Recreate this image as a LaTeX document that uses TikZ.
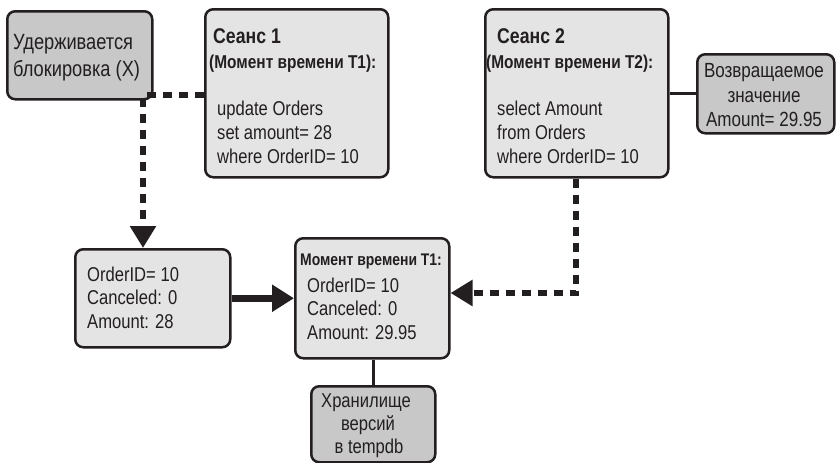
\documentclass[tikz,border=0pt]{standalone}
\usepackage{fontspec}
\setmainfont{Liberation Sans}[FakeStretch=0.83]
\usetikzlibrary{arrows.meta}
\definecolor{lightfill}{HTML}{E4E4E5}
\definecolor{darkfill}{HTML}{C8C8C9}
\definecolor{ink}{HTML}{231F20}
\begin{document}
\begin{tikzpicture}[x=1pt,y=-1pt,
  box/.style={draw=ink, line width=2.5pt, rounded corners=8pt, inner sep=0pt, anchor=north west},
  lightbox/.style={box, fill=lightfill},
  darkbox/.style={box, fill=darkfill},
  txt/.style={anchor=base west, inner sep=0pt, text=ink},
  ctxt/.style={anchor=base, inner sep=0pt, text=ink},
  big/.style={font=\fontsize{22}{26}\selectfont},
  body/.style={font=\fontsize{20}{24}\selectfont},
  small/.style={font=\fontsize{20.5}{24}\selectfont},
  store/.style={font=\fontsize{20}{24}\selectfont},
  ttl/.style={font=\fontsize{21.3}{25}\bfseries\selectfont},
  sub/.style={font=\fontsize{18.6}{22}\bfseries\selectfont},
  midttl/.style={font=\fontsize{16.8}{20}\bfseries\selectfont},
  dashline/.style={draw=ink, line width=5.5pt, dash pattern=on 9pt off 7pt},
  dtip/.style={-{Triangle[length=22pt,width=25pt]}},
  solidline/.style={draw=ink, line width=3pt},
  thickarrow/.style={draw=ink, line width=7.5pt, -{Triangle[length=22pt,width=26pt]}}
]
\useasboundingbox (0,0) rectangle (836,463);

% boxes
\node[darkbox, minimum width=145pt, minimum height=88pt] (lock) at (6,10) {};
\node[lightbox, minimum width=183pt, minimum height=168pt] (s1) at (204,8) {};
\node[lightbox, minimum width=183pt, minimum height=168pt] (s2) at (484,8) {};
\node[darkbox, minimum width=137pt, minimum height=79pt] (ret) at (696,53) {};
\node[lightbox, minimum width=155pt, minimum height=98pt] (ord) at (74,248) {};
\node[lightbox, minimum width=154pt, minimum height=120pt] (mid) at (294,237) {};
\node[darkbox, minimum width=124pt, minimum height=76pt] (store) at (310,385) {};

% texts
\node[txt, big] (l1) at (13,49) {Удерживается};
\node[txt, big] (l2) at (13,76) {блокировка (X)};

\node[txt, ttl] (s1a) at (213,43) {Сеанс 1};
\node[txt, sub] (s1b) at (209,68) {(Момент времени T1):};
\node[txt, body] (s1c) at (217,115) {update Orders};
\node[txt, body] (s1d) at (217,139) {set amount= 28};
\node[txt, body] (s1e) at (217,163) {where OrderID= 10};

\node[txt, ttl] (s2a) at (497,43) {Сеанс 2};
\node[txt, sub] (s2b) at (486,68) {(Момент времени T2):};
\node[txt, body] (s2c) at (497,115) {select Amount};
\node[txt, body] (s2d) at (497,139) {from Orders};
\node[txt, body] (s2e) at (497,163) {where OrderID= 10};

\node[ctxt, small] (r1) at (764,77) {Возвращаемое};
\node[ctxt, small] (r2) at (764,102) {значение};
\node[ctxt, small] (r3) at (764,126) {Amount= 29.95};

\node[txt, body] (o1) at (87,281) {OrderID= 10};
\node[txt, body] (o2) at (87,304) {Canceled: 0};
\node[txt, body] (o3) at (87,328) {Amount: 28};

\node[txt, midttl] (m0) at (300,265) {Момент времени T1:};
\node[txt, body] (m1) at (307,292) {OrderID= 10};
\node[txt, body] (m2) at (307,315) {Canceled: 0};
\node[txt, body] (m3) at (307,339) {Amount: 29.95};

\node[ctxt, store] (h1) at (366,407) {Хранилище};
\node[ctxt, store] (h2) at (368,430) {версий};
\node[ctxt, store] (h3) at (369,453) {в tempdb};

% connectors
\coordinate (c1) at (143,95);
\coordinate (c2) at (576,293);
\draw[dashline, dtip] (s1.west |- c1) -- (c1) -- (c1 |- ord.north);
\draw[dashline, dtip] (c2 |- s2.south) -- (c2) -- (mid.east |- c2);
\draw[thickarrow] (ord.east) -- (mid.west |- ord.east);
\draw[solidline] (s2.east |- ret.west) -- (ret.west);
\draw[solidline] (store.north |- mid.south) -- (store.north);
\end{tikzpicture}
\end{document}
